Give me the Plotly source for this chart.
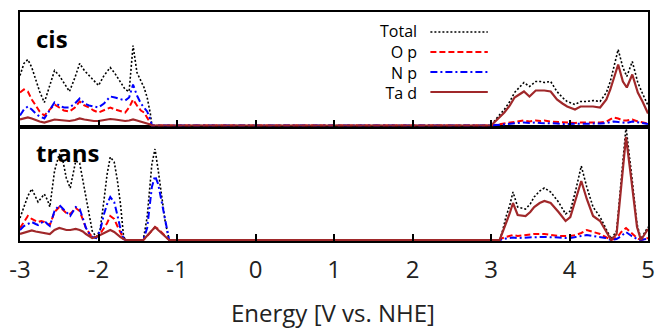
import plotly.graph_objects as go

# ---------------- data (DOS, arbitrary units) ----------------
series_names = ["Total", "O p", "N p", "Ta d"]

# cis: valence band region
cis_val_E = [-3.00, -2.95, -2.90, -2.85, -2.80, -2.75, -2.69, -2.63, -2.56, -2.50,
             -2.44, -2.37, -2.30, -2.24, -2.18, -2.12, -2.06, -2.00, -1.93, -1.85,
             -1.79, -1.72, -1.66, -1.61, -1.56, -1.51, -1.46, -1.42, -1.38, -1.34, -1.32]
cis_val_total = [50, 62, 66, 58, 46, 34, 23, 38, 55, 50,
                 42, 34, 48, 62, 55, 50, 46, 40, 50, 58,
                 52, 44, 36, 34, 80, 53, 44, 38, 28, 12, 0]
cis_val_Op = [33, 36, 34, 26, 20, 14, 10, 15, 21, 18,
              15, 14, 18, 24, 20, 18, 15, 13, 15, 18,
              16, 14, 13, 18, 26, 20, 15, 13, 8, 3, 0]
cis_val_Np = [10, 16, 19, 16, 12, 9, 7, 15, 23, 20,
              18, 18, 22, 27, 22, 20, 19, 18, 22, 29,
              28, 26, 25, 28, 41, 30, 22, 18, 14, 6, 0]
cis_val_Tad = [6, 7, 8, 7, 5.5, 4, 3, 4.5, 6, 5.5,
               5, 4.5, 5.5, 7, 6, 5, 4.5, 4.5, 5.5, 6.5,
               6, 5, 4.5, 5, 6, 5, 4, 3, 2, 1, 0]

# cis: conduction band region
cis_con_E = [3.00, 3.08, 3.17, 3.24, 3.30, 3.36, 3.42, 3.49, 3.57, 3.63,
             3.68, 3.76, 3.84, 3.91, 3.97, 4.07, 4.14, 4.22, 4.30, 4.39,
             4.47, 4.52, 4.56, 4.62, 4.68, 4.73, 4.80, 4.87, 4.93, 5.00]
cis_con_total = [0, 8, 16, 24, 33, 38, 43, 39, 44, 44,
                 43, 44, 34, 28, 24, 21, 24, 24, 25, 24,
                 33, 44, 56, 76, 58, 49, 64, 43, 32, 20]
cis_con_Op = [0, 1, 2, 3, 3.5, 4, 5, 4, 5, 4.5,
              5, 4, 3.5, 3, 3, 2.5, 3, 3, 3, 3,
              4, 6, 8, 7, 5, 5, 6, 4, 3, 2]
cis_con_Np = [0, 0.5, 1, 1.5, 2, 2.5, 3, 2.5, 3, 2.5,
              2.5, 2, 2, 1.5, 1.5, 1.5, 1.5, 2, 2, 2,
              2.5, 3, 4, 3.5, 3, 2.5, 4, 3, 2, 1.5]
cis_con_Tad = [0, 6, 13, 20, 28, 31, 34, 29, 35, 35,
               35, 34, 26, 22, 19, 16, 19, 19, 19, 18,
               26, 36, 46, 61, 44, 38, 51, 33, 24, 12]

# trans: valence band region
trans_val_E = [-3.00, -2.95, -2.90, -2.85, -2.80, -2.77, -2.73, -2.69, -2.65, -2.62,
               -2.56, -2.50, -2.45, -2.41, -2.36, -2.29, -2.24, -2.20, -2.16, -2.12,
               -2.08, -2.03, -1.98, -1.93, -1.89, -1.85, -1.80, -1.76, -1.72, -1.68,
               -1.65, -1.43, -1.38, -1.32, -1.28, -1.24, -1.20, -1.15, -1.10]
trans_val_total = [22, 32, 44, 51, 42, 38, 42, 46, 40, 33,
                   69, 86, 78, 62, 52, 79, 77, 60, 44, 25,
                   9, 3, 10, 40, 66, 83, 78, 60, 36, 3,
                   0, 0, 23, 76, 91, 70, 45, 18, 0]
trans_val_Op = [12, 18, 24, 21, 19, 18, 19, 18, 16, 15,
                28, 33, 30, 27, 26, 32, 29, 21, 12, 7,
                3, 3, 6, 12, 17, 24, 21, 14, 7, 1,
                0, 0, 4, 9, 13, 11, 8, 4, 0]
trans_val_Np = [10, 14, 16, 18, 16, 15, 17, 19, 16, 14,
                29, 35, 31, 28, 24, 33, 31, 22, 12, 7,
                3, 2, 9, 26, 36, 43, 38, 25, 11, 1,
                0, 0, 12, 53, 64, 56, 40, 19, 0]
trans_val_Tad = [6, 7, 8, 9.5, 8.5, 8, 7.5, 7, 6.5, 6,
                 10, 12, 11, 10, 10, 11, 10, 8.5, 6, 4,
                 2, 3, 5, 7, 9, 10, 8, 5, 3, 1,
                 0, 0, 4, 9, 13, 10, 7, 3, 0]

# trans: conduction band region
trans_con_E = [3.11, 3.15, 3.19, 3.24, 3.28, 3.34, 3.44, 3.50, 3.55, 3.62,
               3.68, 3.76, 3.86, 3.95, 4.01, 4.08, 4.15, 4.22, 4.30, 4.39,
               4.46, 4.53, 4.60, 4.66, 4.72, 4.79, 4.86, 4.91, 4.96, 5.00]
trans_con_total = [0, 10, 23, 35, 48, 33, 31, 36, 43, 49,
                   52, 48, 38, 26, 29, 50, 74, 53, 33, 23,
                   12, 1, 9, 60, 113, 66, 16, 1, 8, 13]
trans_con_Op = [0, 2, 3, 4, 5, 4, 5, 5, 6, 6,
                6, 5, 4, 4, 4, 5, 7, 10, 8, 6,
                3, 0, 2, 8, 12, 7, 2, 0, 1, 2]
trans_con_Np = [0, 1, 1.5, 2, 2.5, 2, 2.5, 3, 3, 3,
                3, 3, 2.5, 2, 2, 3, 4, 5, 4, 3,
                2, 0, 1, 4, 8, 4, 1, 0, 1, 1.5]
trans_con_Tad = [0, 8, 18, 27, 37, 25, 24, 28, 33, 37,
                 39, 37, 28, 19, 23, 40, 59, 41, 24, 19,
                 10, 0, 6, 55, 103, 59, 13, 0, 6, 11]

x_ticks = [-3, -2, -1, 0, 1, 2, 3, 4, 5]
x_title = "Energy [V vs. NHE]"
panel_labels = ["cis", "trans"]

# ---------------- styles ----------------
FONT = "Open Sans"
styles = {
    "Total": dict(color="black", width=1.6, dash="2px,2px"),
    "O p": dict(color="#ff0000", width=2, dash="6px,3px"),
    "N p": dict(color="#0000ff", width=2, dash="7px,3px,2px,3px"),
    "Ta d": dict(color="#a0282a", width=2.2, dash="solid"),
}

cis = {
    "Total": (cis_val_total, cis_con_total),
    "O p": (cis_val_Op, cis_con_Op),
    "N p": (cis_val_Np, cis_con_Np),
    "Ta d": (cis_val_Tad, cis_con_Tad),
}
trans = {
    "Total": (trans_val_total, trans_con_total),
    "O p": (trans_val_Op, trans_con_Op),
    "N p": (trans_val_Np, trans_con_Np),
    "Ta d": (trans_val_Tad, trans_con_Tad),
}

fig = go.Figure()
for name in series_names:
    v, c = cis[name]
    fig.add_trace(go.Scatter(x=cis_val_E + cis_con_E, y=v + c, mode="lines",
                             line=styles[name], name=name, showlegend=False,
                             xaxis="x2", yaxis="y2"))
for name in series_names:
    v, c = trans[name]
    fig.add_trace(go.Scatter(x=trans_val_E + trans_con_E, y=v + c, mode="lines",
                             line=styles[name], name=name, showlegend=False,
                             xaxis="x", yaxis="y"))

axis_common = dict(showline=True, mirror=True, linecolor="black", linewidth=2,
                   showgrid=False, zeroline=False)

fig.update_layout(
    width=663, height=329,
    margin=dict(l=20, r=8, t=12, b=88),
    paper_bgcolor="white", plot_bgcolor="white",
    font=dict(family=FONT, color="black"),
    xaxis=dict(range=[-3, 5], tickvals=x_ticks, ticktext=[str(t) for t in x_ticks],
               ticks="inside", ticklen=7, tickwidth=1.5, tickcolor="black",
               tickfont=dict(size=24, family=FONT, color="#222"), ticklabelstandoff=6,
               anchor="y", **axis_common),
    yaxis=dict(domain=[0, 0.5], range=[-1, 113.5], showticklabels=False,
               ticks="", anchor="x", **axis_common),
    xaxis2=dict(range=[-3, 5], tickvals=x_ticks, showticklabels=False,
                ticks="inside", ticklen=7, tickwidth=1.5, tickcolor="black",
                anchor="y2", matches="x", **axis_common),
    yaxis2=dict(domain=[0.5, 1], range=[-1, 113.5], showticklabels=False,
                ticks="", anchor="x2", **axis_common),
)

# Axis title
fig.add_annotation(text=x_title, xref="paper", yref="paper", x=0.498, y=-0.314,
                   xanchor="center", yanchor="middle", showarrow=False,
                   font=dict(size=24, family=FONT, color="#222"))

# Panel labels
fig.add_annotation(text="<b>%s</b>" % panel_labels[0], xref="paper", yref="paper",
                   x=0.022, y=0.886, xanchor="left", yanchor="middle", showarrow=False,
                   font=dict(size=24, family=FONT, color="black"))
fig.add_annotation(text="<b>%s</b>" % panel_labels[1], xref="paper", yref="paper",
                   x=0.022, y=0.388, xanchor="left", yanchor="middle", showarrow=False,
                   font=dict(size=24, family=FONT, color="black"))

# Manual legend: one right-aligned multi-line text, line samples to its right
leg_y = [0.9127, 0.8253, 0.738, 0.6507]
fig.add_annotation(text="<br>".join(series_names), xref="paper", yref="paper",
                   x=0.6346, y=sum(leg_y) / len(leg_y), xanchor="right",
                   yanchor="middle", align="right", showarrow=False,
                   font=dict(size=16, family=FONT, color="black"))
for name, yy in zip(series_names, leg_y):
    fig.add_shape(type="line", xref="paper", yref="paper", x0=0.6535, x1=0.7449,
                  y0=yy, y1=yy, line=styles[name])

fig.write_html("out.html", config={"displayModeBar": False},
               post_script="document.body.style.margin='0';")
